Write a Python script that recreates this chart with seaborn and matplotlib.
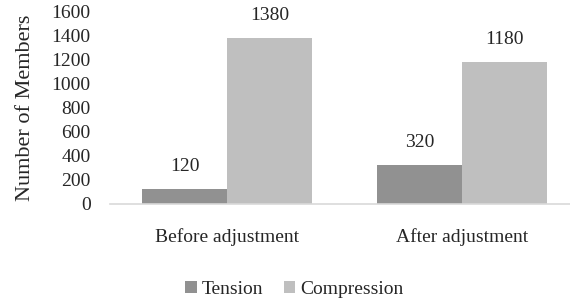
# packages
import pandas as pd
import matplotlib.pyplot as plt
import seaborn as sns

# chart values
stages = ["Before adjustment", "After adjustment"]
member_types = ["Tension", "Compression"]
tension = [120, 320]
compression = [1380, 1180]
y_ticks = [0, 200, 400, 600, 800, 1000, 1200, 1400, 1600]

# long table for seaborn
df = pd.DataFrame({
    "stage": stages + stages,
    "type": ["Tension"] * len(stages) + ["Compression"] * len(stages),
    "members": tension + compression,
})

sns.set_style("white")
plt.rcParams['font.family'] = ['Liberation Serif', 'DejaVu Serif']
text_color = "#262626"

fig = plt.figure(figsize=(5.7, 3.04), dpi=100)
ax = fig.add_axes([110 / 570, 100.5 / 304, 460 / 570, 191.5 / 304])

sns.barplot(data=df, x="stage", y="members", hue="type", hue_order=member_types,
            palette=["#919191", "#bfbfbf"], saturation=1, width=0.724,
            linewidth=0, ax=ax)

ax.set_xlim(-0.5, 1.46)
ax.set_ylim(0, 1600)
ax.set_yticks(y_ticks)
ax.set_xlabel("")
ax.set_ylabel("Number of Members", fontsize=16, color=text_color, labelpad=12)
ax.tick_params(length=0, labelsize=14, colors=text_color)
ax.tick_params(axis='y', pad=14)
ax.tick_params(axis='x', pad=18)

sns.despine(ax=ax, left=True)
ax.spines['bottom'].set_color("#d9d9d9")
ax.spines['bottom'].set_linewidth(1.2)

# value labels
for c in ax.containers:
    ax.bar_label(c, padding=10, fontsize=14, color=text_color)

# legend at the bottom
handles, labels = ax.get_legend_handles_labels()
ax.get_legend().remove()
leg = fig.legend(handles, labels, loc='center', bbox_to_anchor=(294.5 / 570, 1 - 289 / 304),
                 ncol=2, frameon=False, fontsize=14, handlelength=0.57, handleheight=0.57,
                 handletextpad=0.25, columnspacing=1.1)
for t in leg.get_texts():
    t.set_color(text_color)

fig.savefig("out.png", dpi=100)
